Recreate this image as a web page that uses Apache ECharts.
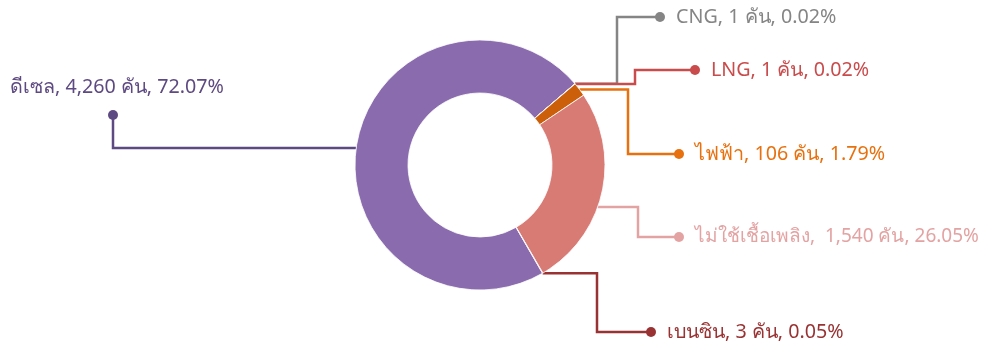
<!DOCTYPE html>
<html>
<head>
<meta charset="utf-8">
<script src="https://cdn.jsdelivr.net/npm/echarts@6/dist/echarts.min.js"></script>
<style>
html, body { margin: 0; padding: 0; background: #fff; }
#main { width: 987px; height: 347px; }
</style>
</head>
<body>
<div id="main"></div>
<script>
// ข้อมูลจำนวนรถแยกตามเชื้อเพลิง
var fuelNames = ['ดีเซล', 'CNG', 'LNG', 'ไฟฟ้า', 'ไม่ใช้เชื้อเพลิง', 'เบนซิน'];
var carCounts = [4260, 1, 1, 106, 1540, 3];
var sliceColors = ['#8A6BAE', '#8C8C8C', '#C44A4A', '#CC5F0A', '#D97B75', '#9A3535'];
var labelColors = ['#5E4A82', '#858585', '#C94B4B', '#E8710F', '#E3A3A3', '#993333'];

// ตำแหน่งเส้นชี้และป้าย
var cx = 480, cy = 165, rIn = 72, rOut = 125;
var guides = [
    {elbowX: 113, y: 115, dotX: 113, startY: 148, size: 19.7},
    {elbowX: 617, y: 17, dotX: 660, size: 19.7},
    {elbowX: 635, y: 70, dotX: 695, size: 19.7},
    {elbowX: 628, y: 154, dotX: 679, size: 19.7},
    {elbowX: 638, y: 237, dotX: 679, startY: 207, size: 19},
    {elbowX: 597, y: 332, dotX: 651, size: 19.7}
];

var total = carCounts.reduce(function (a, b) { return a + b; }, 0);

function fmtNum(n) {
    return String(n).replace(/\B(?=(\d{3})+(?!\d))/g, ',');
}

var dataList = [];
for (var i = 0; i < fuelNames.length; i++) {
    var pct = (carCounts[i] / total * 100).toFixed(2);
    var sep = fuelNames[i] == 'ไม่ใช้เชื้อเพลิง' ? ',  ' : ', ';
    var txt = fuelNames[i] + sep + fmtNum(carCounts[i]) + ' คัน, ' + pct + '%';
    var fmt = i == 0 ? '{t|' + txt + '}\n{sp|}{dot|}' : '{dot|}{t|' + txt + '}';
    dataList.push({
        name: fuelNames[i],
        value: carCounts[i],
        itemStyle: {color: sliceColors[i]},
        label: {
            formatter: fmt,
            rich: {
                t: {color: labelColors[i], fontSize: guides[i].size, lineHeight: 28, padding: i == 0 ? 0 : [0, 0, 0, 11]},
                sp: {width: 98, height: 28},
                dot: {width: 10, height: 10, borderRadius: 5, backgroundColor: labelColors[i]}
            }
        },
        labelLine: {lineStyle: {color: labelColors[i], width: 2.5}}
    });
}

var myChart = echarts.init(document.getElementById('main'));
option = {
    animation: false,
    textStyle: {fontFamily: 'Tahoma, "Noto Sans", sans-serif'},
    series: [
        {
            name: 'เชื้อเพลิง',
            type: 'pie',
            center: [cx, cy],
            radius: [rIn, rOut],
            startAngle: 300,
            avoidLabelOverlap: false,
            minShowLabelAngle: 0,
            itemStyle: {borderColor: '#fff', borderWidth: 0.8},
            label: {show: true},
            labelLine: {show: true, lineStyle: {width: 2.5}},
            labelLayout: function (params) {
                var g = guides[params.dataIndex];
                var p0 = params.labelLinePoints[0];
                if (g.startY != null) {
                    var dx = Math.sqrt(rOut * rOut - (g.startY - cy) * (g.startY - cy));
                    p0 = [g.elbowX < cx ? cx - dx : cx + dx, g.startY];
                }
                if (params.dataIndex == 0) {
                    return {
                        x: 10, y: 73, align: 'left', verticalAlign: 'top',
                        labelLinePoints: [p0, [g.elbowX, p0[1]], [g.elbowX, g.y]]
                    };
                }
                return {
                    x: g.dotX - 5, y: g.y, align: 'left', verticalAlign: 'middle',
                    labelLinePoints: [p0, [g.elbowX, p0[1]], [g.elbowX, g.y], [g.dotX, g.y]]
                };
            },
            data: dataList
        }
    ]
};
myChart.setOption(option);
</script>
</body>
</html>
